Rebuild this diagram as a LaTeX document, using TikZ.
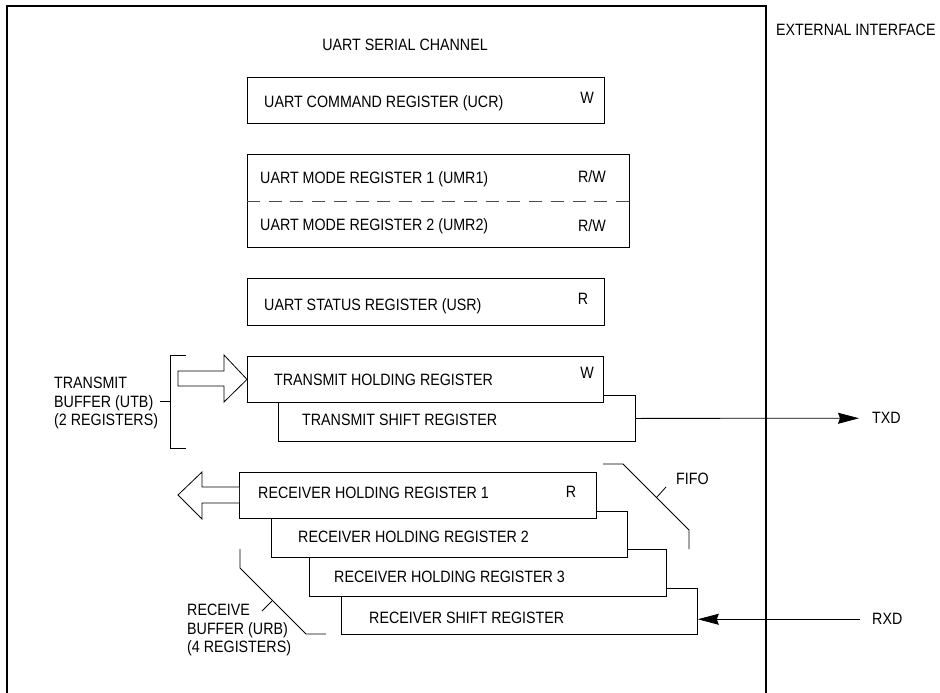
\documentclass[tikz,border=0pt]{standalone}
\usepackage{fontspec}
\setmainfont{Liberation Sans}[FakeStretch=0.87]
\usetikzlibrary{arrows.meta}
\newcommand\lblfont{\fontsize{16.4pt}{18.5pt}\selectfont}
\tikzset{
  reg/.style={draw, line width=0.8pt, fill=white, inner sep=0pt, anchor=north west},
  lbl/.style={inner sep=0pt, anchor=base west, font=\lblfont},
  acc/.style={inner sep=0pt, anchor=base, font=\lblfont},
  blk/.style={inner sep=0pt, anchor=west, align=left, font=\lblfont},
  thin/.style={line width=0.8pt},
  hollow/.style={line width=0.8pt, fill=white, line join=miter},
  sig/.style={line width=0.8pt, -{Stealth[length=21pt, width=11pt, inset=2pt]}},
}
\begin{document}
\begin{tikzpicture}[x=1pt, y=-1pt]
\useasboundingbox (0,0) rectangle (940,693);
% outer channel frame
\draw[line width=1.2pt] (7,693) -- (7,6) -- (766,6) -- (766,693);
\node[acc] (title) at (405,50.9) {UART SERIAL CHANNEL};
\node[lbl] (ext) at (776,35.9) {EXTERNAL INTERFACE};

% command register
\node[reg, minimum width=357pt, minimum height=46pt] (ucr) at (247,77) {};
\node[lbl] (ucrT) at (264,107.9) {UART COMMAND REGISTER (UCR)};
\node[acc] (ucrA) at (587,103.9) {W};

% mode registers
\node[reg, minimum width=382pt, minimum height=93pt] (umr) at (247,154) {};
\draw[thin, gray!60!black, dash pattern=on 13pt off 8.7pt] (umr.west |- 0,201) -- (umr.east |- 0,201);
\node[lbl] (umr1T) at (260,183.9) {UART MODE REGISTER 1 (UMR1)};
\node[acc] (umr1A) at (592,182.9) {R/W};
\node[lbl] (umr2T) at (260,230.9) {UART MODE REGISTER 2 (UMR2)};
\node[acc] (umr2A) at (592,231.2) {R/W};

% status register
\node[reg, minimum width=357pt, minimum height=47pt] (usr) at (247,278) {};
\node[lbl] (usrT) at (264,310.9) {UART STATUS REGISTER (USR)};
\node[acc] (usrA) at (583,304.9) {R};

% transmit buffer
\node[reg, minimum width=357pt, minimum height=46pt] (tsr) at (278,395) {};
\node[reg, minimum width=356pt, minimum height=46pt] (thr) at (247,356) {};
\node[lbl] (thrT) at (274,385.9) {TRANSMIT HOLDING REGISTER};
\node[acc] (thrA) at (587,378.9) {W};
\node[lbl] (tsrT) at (302,425.9) {TRANSMIT SHIFT REGISTER};
\node[lbl] (txd) at (872,423.9) {TXD};
\draw[sig] (tsr.east) -- ([xshift=-13pt]txd.west);
\draw[hollow] (178,371) -- (224,371) -- (224,355) -- (thr.west) -- (224,402) -- (224,386) -- (178,386) -- cycle;
\draw[thin] (186,355) -- (170,355) -- (170,448) -- (186,448);
\draw[thin] (160,401) -- (170,401);
\node[blk] (utb) at (54,403) {TRANSMIT\\BUFFER (UTB)\\(2 REGISTERS)};

% receive buffer
\node[reg, minimum width=356pt, minimum height=46pt] (rsr) at (341,588) {};
\node[reg, minimum width=357pt, minimum height=47pt] (rhr3) at (309,549) {};
\node[reg, minimum width=356pt, minimum height=46pt] (rhr2) at (271,511) {};
\node[reg, minimum width=357pt, minimum height=46pt] (rhr1) at (239,472) {};
\node[lbl] (rhr1T) at (258,498.9) {RECEIVER HOLDING REGISTER 1};
\node[acc] (rhr1A) at (571,497.7) {R};
\node[lbl] (rhr2T) at (298,542.9) {RECEIVER HOLDING REGISTER 2};
\node[lbl] (rhr3T) at (334,582.9) {RECEIVER HOLDING REGISTER 3};
\node[lbl] (rsrT) at (369,623.9) {RECEIVER SHIFT REGISTER};
\node[lbl] (rxd) at (872,624.9) {RXD};
\draw[sig] ([xshift=-12pt]rxd.west) -- (rsr.east |- rxd.west);
\draw[hollow] (239,487) -- (202,487) -- (202,472) -- (178,495) -- (202,519) -- (202,503) -- (239,503);

% FIFO bracket
\draw[thin] (603,464) -- (623,464) -- (689,530) -- (689,549);
\draw[thin] (657,497) -- (666,487);
\node[lbl] (fifo) at (676,484.9) {FIFO};

% receive buffer bracket
\draw[thin] (240,549) -- (240,568) -- (306,634) -- (326,634);
\draw[thin] (262,611) -- (272,601);
\node[blk] (urb) at (187,630) {RECEIVE\\BUFFER (URB)\\(4 REGISTERS)};
\end{tikzpicture}
\end{document}
